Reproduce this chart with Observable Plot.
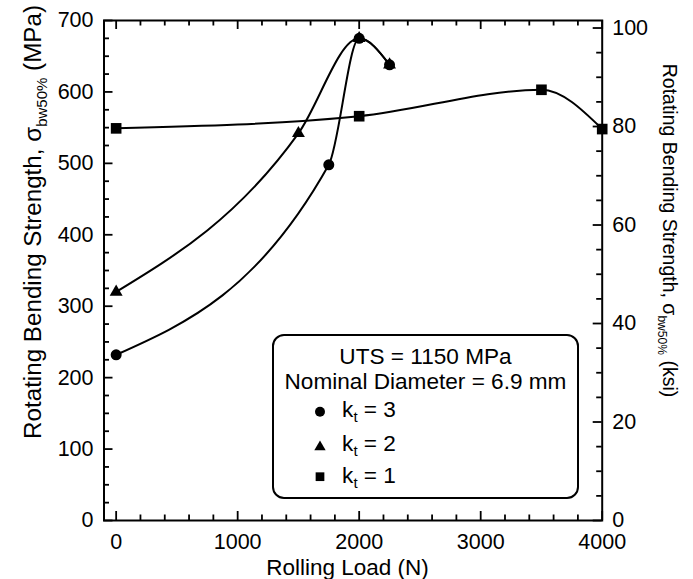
<!DOCTYPE html>
<html><head><meta charset="utf-8">
<script src="https://cdn.jsdelivr.net/npm/d3@7"></script>
<script src="https://cdn.jsdelivr.net/npm/@observablehq/plot@0.6"></script>
<style>body{margin:0;background:#fff}</style>
</head><body><div id="chart"></div>
<script>
// ---- data ----
const loadKt3 = [0, 1750, 2000, 2250];
const strengthKt3 = [232, 498, 675, 638];
const loadKt2 = [0, 1500, 2000, 2250];
const strengthKt2 = [320, 542, 675, 638];
const loadKt1 = [0, 2000, 3500, 4000];
const strengthKt1 = [549, 566, 603, 548];

const xMajorTicks = [0, 1000, 2000, 3000, 4000];
const yMajorTicksMPa = [0, 100, 200, 300, 400, 500, 600, 700];
const yMajorTicksKsi = [0, 20, 40, 60, 80, 100];
const KSI = 6.894757;

const xMinorTicks = d3.range(0, 4001, 200).filter(d => d % 1000 !== 0);
const yMinorMPa = d3.range(0, 701, 25).filter(d => d % 100 !== 0);
const yMinorKsi = d3.range(0, 101, 5).filter(d => d % 20 !== 0);

const FONT = "'Liberation Sans', Arial, Helvetica, sans-serif";
const W = 693, H = 579, ML = 103.5, MR = 91.3, MT = 20, MB = 59;
const PW = W - ML - MR, PH = H - MT - MB;

const rows = (loads, vals, s) => loads.map((x, i) => ({x, y: vals[i], s}));
const kt3 = rows(loadKt3, strengthKt3, "kt=3");
const kt2 = rows(loadKt2, strengthKt2, "kt=2");
const kt1 = rows(loadKt1, strengthKt1, "kt=1");

const MAJ = 9, MIN = 5.5, TW = 1.8;
const CURVE = "monotone-x";

const svg = Plot.plot({
  width: W, height: H,
  marginLeft: ML, marginRight: MR, marginTop: MT, marginBottom: MB,
  style: {fontFamily: FONT, fontSize: "21.5px", color: "black", background: "white", overflow: "visible"},
  x: {domain: [-100, 4000]},
  y: {domain: [0, 700]},
  marks: [
    // bottom & top ticks (inward)
    Plot.tickX(xMajorTicks, {x: d => d, insetTop: PH - MAJ, stroke: "black", strokeWidth: TW}),
    Plot.tickX(xMinorTicks, {x: d => d, insetTop: PH - MIN, stroke: "black", strokeWidth: TW}),
    Plot.tickX(xMajorTicks, {x: d => d, insetBottom: PH - MAJ, stroke: "black", strokeWidth: TW}),
    Plot.tickX(xMinorTicks, {x: d => d, insetBottom: PH - MIN, stroke: "black", strokeWidth: TW}),
    // left ticks
    Plot.tickY(yMajorTicksMPa, {y: d => d, insetRight: PW - MAJ, stroke: "black", strokeWidth: TW}),
    Plot.tickY(yMinorMPa, {y: d => d, insetRight: PW - MIN, stroke: "black", strokeWidth: TW}),
    // right ticks (ksi)
    Plot.tickY(yMajorTicksKsi, {y: d => d * KSI, insetLeft: PW - MAJ, stroke: "black", strokeWidth: TW}),
    Plot.tickY(yMinorKsi, {y: d => d * KSI, insetLeft: PW - MIN, stroke: "black", strokeWidth: TW}),
    // tick labels
    Plot.axisX({ticks: xMajorTicks, tickSize: 0, tickPadding: 13.5, tickFormat: d => String(d), label: null}),
    Plot.axisY({anchor: "left", ticks: yMajorTicksMPa, tickSize: 0, tickPadding: 10.5, tickFormat: d => String(d), label: null}),
    Plot.axisY({anchor: "right", ticks: yMajorTicksKsi.map(k => k * KSI), tickSize: 0, tickPadding: 10,
      tickFormat: d => String(Math.round(d / KSI)), label: null}),
    // curves
    Plot.line(kt1, {x: "x", y: "y", curve: CURVE, stroke: "black", strokeWidth: 2}),
    Plot.line(kt2, {x: "x", y: "y", curve: CURVE, stroke: "black", strokeWidth: 2}),
    Plot.line(kt3, {x: "x", y: "y", curve: CURVE, stroke: "black", strokeWidth: 2}),
    // markers
    Plot.dot(kt1, {x: "x", y: "y", symbol: "square", r: 6, fill: "black"}),
    Plot.dot(kt2, {x: "x", y: "y", symbol: "triangle", r: 4.8, fill: "black"}),
    Plot.dot(kt3, {x: "x", y: "y", symbol: "circle", r: 5.5, fill: "black"}),
    Plot.frame({stroke: "black", strokeWidth: 2})
  ]
});
document.getElementById("chart").appendChild(svg);

// ---- titles and legend (real text) ----
const g = d3.select(svg).append("g").attr("font-family", FONT).attr("fill", "black");

function subTitle(parent, transform, size, main, sub, tail) {
  const t = parent.append("text").attr("transform", transform)
    .attr("text-anchor", "middle").attr("font-size", size + "px");
  t.append("tspan").text(main);
  t.append("tspan").attr("font-size", (size * 0.62) + "px").attr("dy", size * 0.28).text(sub);
  t.append("tspan").attr("dy", -size * 0.28).text(tail);
  return t;
}
subTitle(g, "translate(40.5,222) rotate(-90)", 24.2, "Rotating Bending Strength, σ", "bw50%", " (MPa)");
subTitle(g, "translate(663,230.5) rotate(90)", 19.5, "Rotating Bending Strength, σ", "bw50%", " (ksi)");

g.append("text").attr("x", 347.5).attr("y", 574.5).attr("text-anchor", "middle")
  .attr("font-size", "22.5px").text("Rolling Load (N)");

// legend box
const legendHeader = ["UTS = 1150 MPa", "Nominal Diameter = 6.9 mm"];
const legendItems = [
  {sym: d3.symbolCircle, size: 78, label: "3", y: 417.3, my: 411.7},
  {sym: d3.symbolTriangle, size: 56, label: "2", y: 450.7, my: 447},
  {sym: d3.symbolSquare, size: 76, label: "1", y: 483.3, my: 476.7}
];
const lg = g.append("g");
lg.append("rect").attr("x", 273).attr("y", 335).attr("width", 305).attr("height", 163)
  .attr("rx", 11).attr("fill", "white").attr("stroke", "black").attr("stroke-width", 2);
lg.append("text").attr("x", 425.5).attr("y", 363.5).attr("text-anchor", "middle").attr("font-size", "22.6px").text(legendHeader[0]);
lg.append("text").attr("x", 425.5).attr("y", 389).attr("text-anchor", "middle").attr("font-size", "22.6px").text(legendHeader[1]);
legendItems.forEach(it => {
  lg.append("path").attr("d", d3.symbol(it.sym, it.size)()).attr("transform", `translate(320,${it.my})`).attr("fill", "black");
  const t = lg.append("text").attr("x", 369).attr("y", it.y).attr("font-size", "22.6px");
  t.append("tspan").text("k");
  t.append("tspan").attr("font-size", "15px").attr("dy", 5).text("t");
  t.append("tspan").attr("dy", -5).text(" = " + it.label);
});
</script>
</body></html>
